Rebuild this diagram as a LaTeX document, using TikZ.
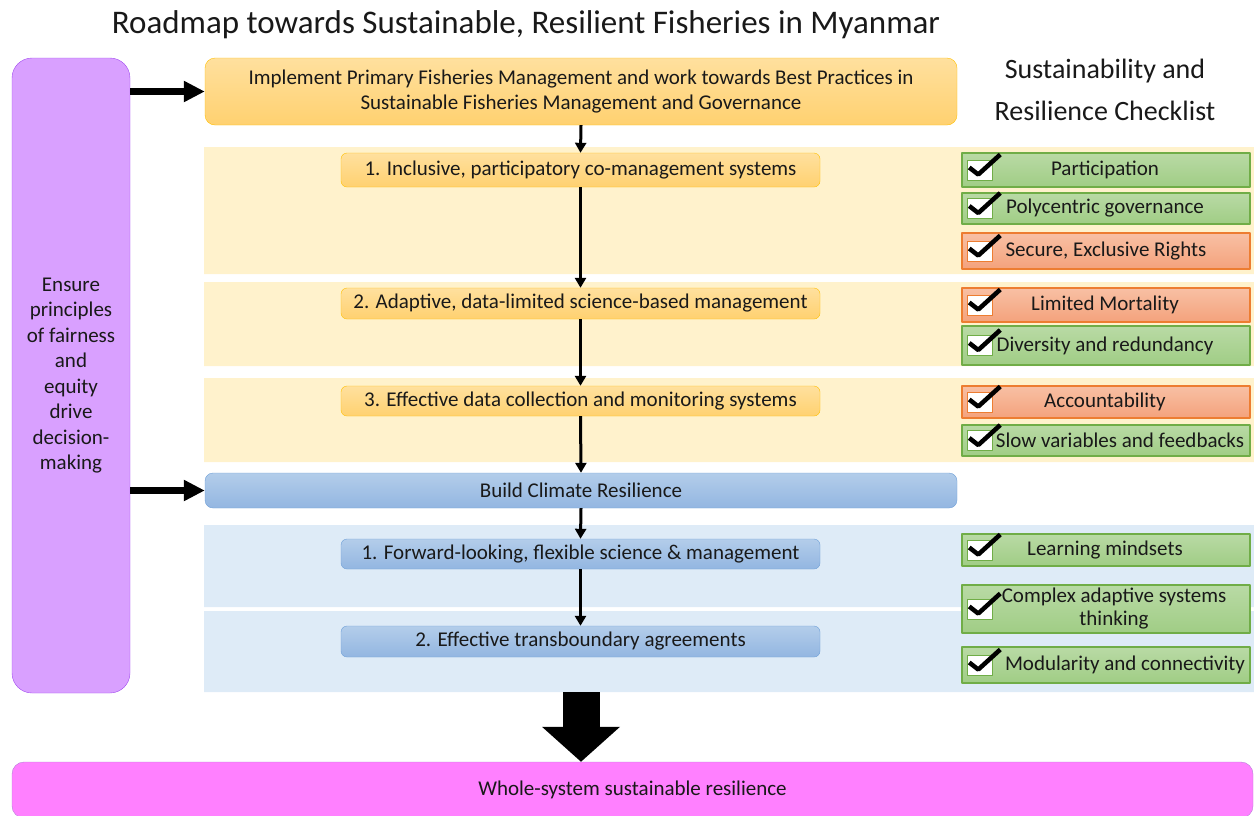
\documentclass[tikz,border=0pt]{standalone}
\usepackage{fontspec}
\setmainfont{Carlito}
\usetikzlibrary{arrows.meta}
\definecolor{bandorange}{HTML}{FFF2CC}
\definecolor{bandblue}{HTML}{DEEBF7}
\definecolor{stepline}{HTML}{FFC000}
\definecolor{steptop}{HTML}{FFE09E}
\definecolor{stepbot}{HTML}{FFD170}
\definecolor{climline}{HTML}{6FA0D8}
\definecolor{climtop}{HTML}{B3CDEA}
\definecolor{climbot}{HTML}{93B6E1}
\definecolor{greenline}{HTML}{70AD47}
\definecolor{greentop}{HTML}{B9DAA5}
\definecolor{greenbot}{HTML}{A0CD85}
\definecolor{orangeline}{HTML}{ED7D31}
\definecolor{orangetop}{HTML}{F8C0A4}
\definecolor{orangebot}{HTML}{F4A27C}
\definecolor{fairfill}{HTML}{D9A0FF}
\definecolor{fairline}{HTML}{A24CF0}
\definecolor{goalfill}{HTML}{FF80FF}
\definecolor{goalline}{HTML}{B57FD6}
\begin{document}
	\begin{tikzpicture}[x=1pt,y=-1pt,line join=round,>={Triangle[width=11pt,length=10pt]}]
		\tikzset{every node/.style={font=\fontsize{21}{25}\selectfont,text=black!90,inner sep=0pt},
			stepbox/.style={draw=stepline,rounded corners=6pt,top color=steptop,bottom color=stepbot,minimum width=479},
			climbox/.style={draw=climline,rounded corners=6pt,top color=climtop,bottom color=climbot,minimum width=479},
			chk/.style={draw=#1line,line width=1.5pt,top color=#1top,bottom color=#1bot,minimum width=288},
			flow/.style={->,line width=3pt},
			fat/.style={line width=7pt,-{Triangle[width=20pt,length=21pt]}}}
		\useasboundingbox (0,0) rectangle (1254,815);
		\clip (0,0) rectangle (1254,815);
		% bands behind the steps
		\fill[bandorange] (204,147) rectangle (1254,274) (204,282) rectangle (1254,366) (204,378) rectangle (1254,462);
		\fill[bandblue] (204,525) rectangle (1254,607) (204,611) rectangle (1254,692);
		% titles
		\node[anchor=base,font=\fontsize{33}{36}\selectfont] (title) at (526,33) {Roadmap towards Sustainable, Resilient Fisheries in Myanmar};
		\node[align=center,font=\fontsize{28}{42}\selectfont] (list) at (1105,90) {Sustainability and\\Resilience Checklist};
		% left and bottom boxes
		\node[draw=fairline,fill=fairfill,rounded corners=20pt,minimum width=118,minimum height=635,align=center,font=\fontsize{21}{25.5}\selectfont] (fair) at (71,375.5)
			{Ensure\\principles\\of fairness\\and\\equity\\drive\\decision-\\making};
		\node[draw=goalline,fill=goalfill,rounded corners=12pt,minimum width=1241,minimum height=56] (goal) at (632.5,790) {Whole-system sustainable resilience};
		% steps
		\node[stepbox,rounded corners=10pt,minimum width=752,minimum height=67,align=center] (top) at (581,91.5)
			{Implement Primary Fisheries Management and work towards Best Practices in\\Sustainable Fisheries Management and Governance};
		\node[stepbox,minimum height=34] (s1) at (580.5,170) {1. Inclusive, participatory co-management systems};
		\node[stepbox,minimum height=31] (s2) at (580.5,303.5) {2. Adaptive, data-limited science-based management};
		\node[stepbox,minimum height=30] (s3) at (580.5,401) {3. Effective data collection and monitoring systems};
		\node[climbox,rounded corners=8pt,minimum width=752,minimum height=35] (clim) at (581,490.5) {Build Climate Resilience};
		\node[climbox,minimum height=30] (c1) at (580.5,554) {1. Forward-looking, flexible science \& management};
		\node[climbox,minimum height=31] (c2) at (580.5,641.5) {2. Effective transboundary agreements};
		% arrows
		\draw[fat] (fair.east |- top.west) -- (top.west);
		\draw[fat] (fair.east |- clim.west) -- (clim.west);
		\draw[flow] (top.south) -- (s1.north);
		\draw[flow] (s1.south) -- (s2.north);
		\draw[flow] (s2.south) -- (s3.north);
		\draw[flow] (s3.south) -- (clim.north);
		\draw[flow] (clim.south) -- (c1.north);
		\draw[flow] (c1.south) -- (c2.north);
		\coordinate (bandend) at (581,692);
		\draw[line width=37pt,-{Triangle[width=76pt,length=35pt]}] (bandend) -- (bandend |- goal.north);
		% checklist
		\foreach \i/\ya/\yb/\c/\tx/\txt in {1/153/187/green/1105/Participation,2/193/224/green/1105/Polycentric governance,
			3/233/269/orange/1106/{Secure, Exclusive Rights},4/288/322/orange/1105/Limited Mortality,
			5/326/365/green/1105/Diversity and redundancy,6/386/418/orange/1105/Accountability,
			7/425/456/green/1120/Slow variables and feedbacks,8/534/566/green/1105/Learning mindsets,
			9/585/633/green/1114/{Complex adaptive systems\\thinking},10/647/683/green/1125/Modularity and connectivity}{
			\node[chk=\c,minimum height=\yb-\ya] (chk\i) at (1106,{(\ya+\yb)/2}) {};
			\node[draw=\c line,fill=white,minimum width=25,minimum height=20,anchor=west] (box\i) at ([xshift=6pt]chk\i.west) {};
			\draw[line width=4.5pt] ([xshift=2pt,yshift=2.5pt]box\i.west) -- ([xshift=11pt,yshift=-4.5pt]box\i.west) -- ([xshift=33pt,yshift=15.5pt]box\i.west);
			\node[align=center,font=\fontsize{21}{23}\selectfont] (txt\i) at (\tx,{(\ya+\yb)/2}) {\txt};
		}
	\end{tikzpicture}
\end{document}
